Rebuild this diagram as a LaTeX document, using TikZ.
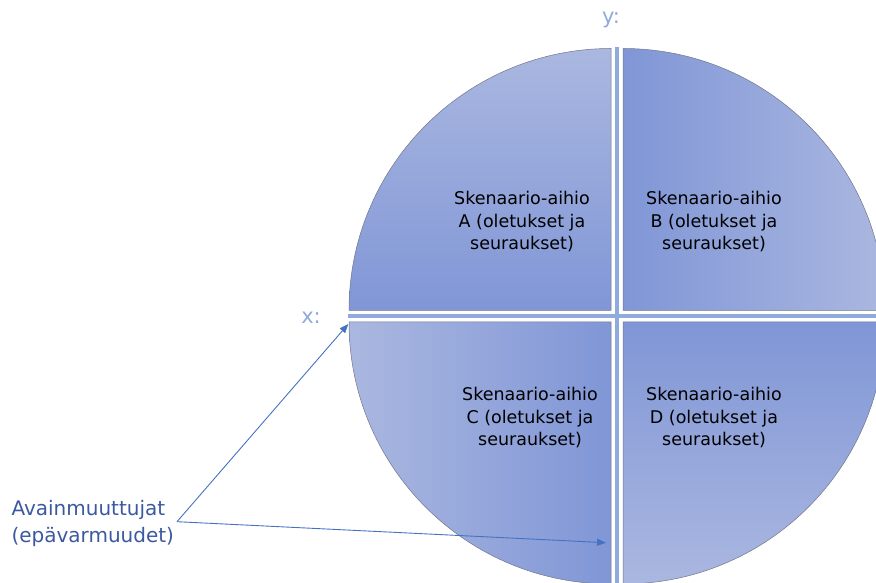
\documentclass[tikz,border=0pt]{standalone}
\usepackage{fontspec}
\setmainfont{DejaVu Sans}
\usetikzlibrary{arrows.meta}
\definecolor{qlight}{RGB}{170,183,224}
\definecolor{qdark}{RGB}{128,150,214}
\definecolor{qedge}{RGB}{112,118,138}
\definecolor{axiscol}{RGB}{143,170,220}
\definecolor{keycol}{RGB}{59,89,160}
\definecolor{arrowcol}{RGB}{68,114,196}
\tikzset{
  quad/.style={draw=qedge, line width=0.5bp},
  quadtext/.style={align=center, text=black,
    font=\fontsize{17.5bp}{22.5bp}\selectfont},
  axisline/.style={draw=axiscol, line width=4bp},
  axislabel/.style={text=axiscol, font=\fontsize{21bp}{25bp}\selectfont},
  keytext/.style={align=left, text=keycol, anchor=west,
    font=\fontsize{20bp}{27bp}\selectfont},
  pointer/.style={draw=arrowcol, line width=0.9bp,
    -{Triangle[length=9bp,width=7bp]}}
}
\begin{document}
\begin{tikzpicture}[x=1bp,y=1bp]
\path[use as bounding box, clip] (0,0) rectangle (876,583);

% four quarter discs, each shifted off the centre
\path[quad, top color=qlight, bottom color=qdark]
  (611,272.5) -- ++(-262,0) arc[start angle=180, end angle=90, radius=262] -- cycle;
\path[quad, left color=qdark, right color=qlight]
  (623,272.5) -- ++(0,262) arc[start angle=90, end angle=0, radius=262] -- cycle;
\path[quad, left color=qlight, right color=qdark]
  (611,261) -- ++(0,-262) arc[start angle=270, end angle=180, radius=262] -- cycle;
\path[quad, top color=qdark, bottom color=qlight]
  (623,261) -- ++(262,0) arc[start angle=0, end angle=-90, radius=262] -- cycle;

% axes
\coordinate (ytop) at (617,536);
\coordinate (ybot) at (617,0);
\coordinate (xleft) at (348,266.5);
\coordinate (xright) at (876,266.5);
\draw[axisline] (ytop) -- (ybot);
\draw[axisline] (xleft) -- (xright);
\node[axislabel] (ylab) at (611,563) {y:};
\node[axislabel] (xlab) at (311,265) {x:};

% scenario texts
\node[quadtext] (qa) at (522,361) {Skenaario-aihio\\A (oletukset ja\\seuraukset)};
\node[quadtext] (qb) at (714,361) {Skenaario-aihio\\B (oletukset ja\\seuraukset)};
\node[quadtext] (qc) at (530,165) {Skenaario-aihio\\C (oletukset ja\\seuraukset)};
\node[quadtext] (qd) at (714,165) {Skenaario-aihio\\D (oletukset ja\\seuraukset)};

% key variables and their pointers
\node[keytext] (keys) at (8,59.5) {Avainmuuttujat\\(epävarmuudet)};
\coordinate (apex) at (177,61.3);
\coordinate (xtip) at (348.3,259);
\coordinate (ytip) at (606,40.3);
\draw[pointer] (apex) -- (xtip);
\draw[pointer] (apex) -- (ytip);
\end{tikzpicture}
\end{document}
